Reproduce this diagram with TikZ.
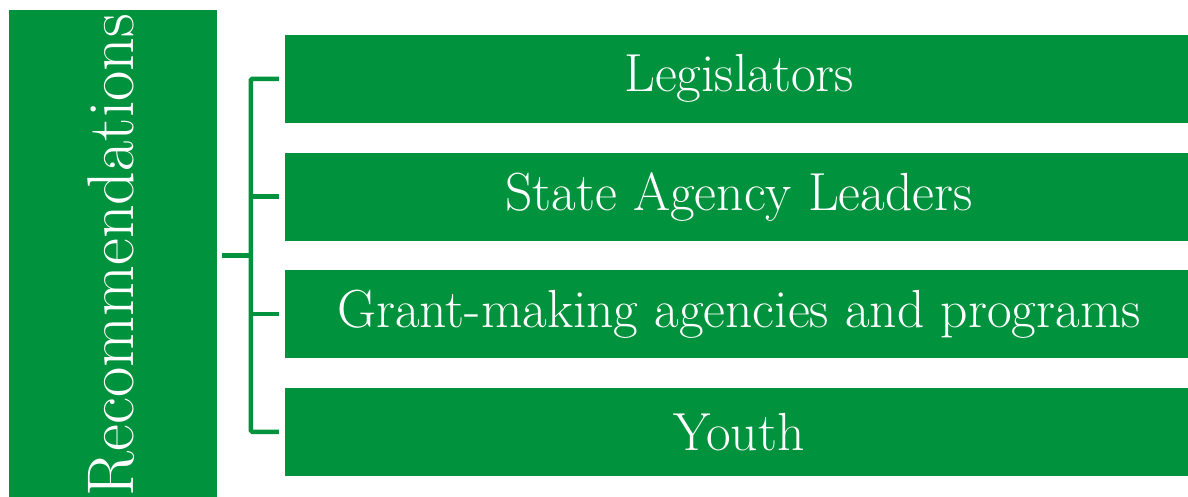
\documentclass[tikz,border=0pt]{standalone}
\usetikzlibrary{calc}

\definecolor{recgreen}{RGB}{0,146,60}

\tikzset{
  itembox/.style={fill=recgreen, draw=none, text=white, minimum width=909pt,
    minimum height=88pt, inner sep=0pt, font=\fontsize{53.6}{60}\selectfont},
  headbox/.style={fill=recgreen, draw=none, minimum width=207.5pt,
    minimum height=510pt, inner sep=0pt},
  link/.style={draw=recgreen, line width=4.5pt, rounded corners=1.5pt}
}

\begin{document}
\begin{tikzpicture}[x=1pt, y=-1pt]
  \useasboundingbox (0,0) rectangle (1188,496);
  \clip (0,0) rectangle (1188,496);

  % left heading
  \node[headbox] (rec) at (113.2,265) {};
  \node[text=white, rotate=90, anchor=base, inner sep=0pt,
    font=\fontsize{66}{72}\selectfont] (rectext) at (133,255) {Recommendations};

  % target groups
  \node[itembox] (leg) at (739,78.8) {Legislators};
  \node[itembox] (sal) at (739,196.6) {State Agency Leaders};
  \node[itembox] (grant) at (739,314.2) {Grant-making agencies and programs};
  \node[itembox] (youth) at (739,431.8) {Youth};

  % bracket
  \draw[link] ([xshift=-5.5pt]leg.west) -| ([xshift=-33.5pt]youth.west)
    -- ([xshift=-5.5pt]youth.west);
  \draw[link] ([xshift=-5.5pt]sal.west) -- ++(-28,0);
  \draw[link] ([xshift=-5.5pt]grant.west) -- ++(-28,0);
  \coordinate (hub) at ($([xshift=-33.5pt]leg.west)!0.5!([xshift=-33.5pt]youth.west)$);
  \draw[link] (hub) -- ++(-28.5,0);
\end{tikzpicture}
\end{document}
